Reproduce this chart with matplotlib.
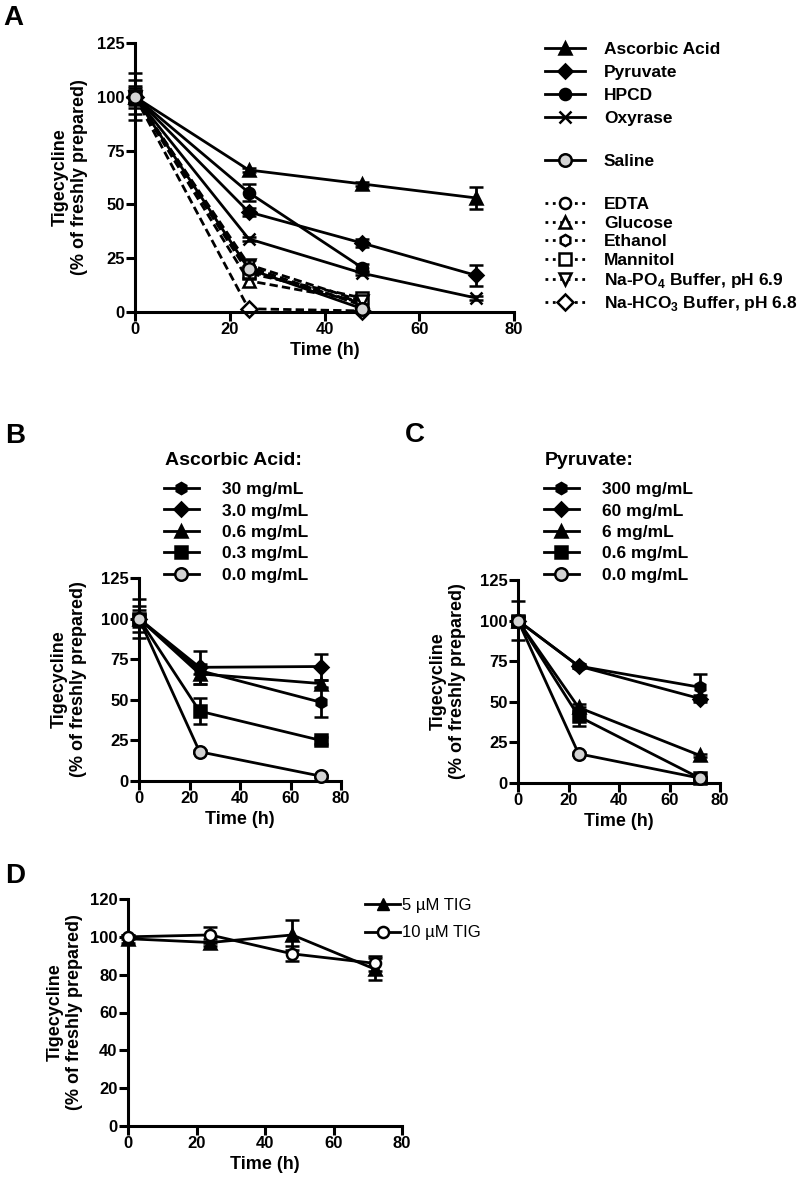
import matplotlib
matplotlib.use("Agg")
import matplotlib.pyplot as plt
from matplotlib.lines import Line2D

plt.rcParams['font.family'] = ['Liberation Sans', 'DejaVu Sans']
plt.rcParams['font.weight'] = 'bold'
plt.rcParams['mathtext.fontset'] = 'custom'
plt.rcParams['mathtext.rm'] = 'Liberation Sans:bold'
plt.rcParams['mathtext.bf'] = 'Liberation Sans:bold'

# ---------------- data ----------------
times_A = [0, 24, 48, 72]
asc_A = [100, 66, 59.5, 53];   asc_A_err = [8, 1, 1, 5]
pyr_A = [100, 46.5, 32, 17];   pyr_A_err = [5, 2, 2, 5]
hpcd_A = [100, 55.5, 20.5];    hpcd_A_err = [11, 4, 2]
oxy_A = [100, 34, 18, 6.5];    oxy_A_err = [3, 1, 1, 1]
saline_A = [100, 20, 1.5];     saline_A_err = [4, 4, 1]
edta_A = [100, 21, 3]
glucose_A = [100, 14.5, 5]
ethanol_A = [100, 19, 4]
mannitol_A = [100, 18, 6.5]
napo4_A = [100, 22, 5]
nahco3_A = [100, 1.5, 0.5]
labels_A_solid = ['Ascorbic Acid', 'Pyruvate', 'HPCD', 'Oxyrase']
label_A_saline = 'Saline'
labels_A_dotted = ['EDTA', 'Glucose', 'Ethanol', 'Mannitol',
                   r'Na-PO$_\mathbf{4}$ Buffer, pH 6.9',
                   r'Na-HCO$_\mathbf{3}$ Buffer, pH 6.8']

times_BC = [0, 24, 72]
title_B = 'Ascorbic Acid:'
labels_B = ['30 mg/mL', '3.0 mg/mL', '0.6 mg/mL', '0.3 mg/mL', '0.0 mg/mL']
b30 = [100, 68, 48.5];  b30_err = [12, 2, 9]
b3 = [100, 70, 70.5];   b3_err = [5, 10, 8]
b06 = [100, 66, 60];    b06_err = [3, 6, 2]
b03 = [100, 43, 25];    b03_err = [8, 8, 2]
b0 = [100, 18, 3];      b0_err = [2, 1, 1]

title_C = 'Pyruvate:'
labels_C = ['300 mg/mL', '60 mg/mL', '6 mg/mL', '0.6 mg/mL', '0.0 mg/mL']
c300 = [100, 72, 59];   c300_err = [12, 1, 8]
c60 = [100, 72, 52];    c60_err = [3, 1, 2]
c6 = [100, 46.5, 17];   c6_err = [3, 2, 1]
c06 = [100, 41, 3];     c06_err = [2, 6, 1]
c0 = [100, 18, 3];      c0_err = [2, 1, 1]

times_D = [0, 24, 48, 72]
labels_D = ['5 \u00b5M TIG', '10 \u00b5M TIG']
d5 = [99, 97, 101, 83];   d5_err = [2, 2, 8, 6]
d10 = [100, 101, 91, 86]; d10_err = [1, 4, 4, 4]

# ---------------- figure ----------------
W, H = 797, 1186
fig = plt.figure(figsize=(W / 100, H / 100), dpi=100)
GRAY = '#d3d3d3'
LW = 2.0
TICK_FS = 12
LAB_FS = 13

def px_axes(x0, y0, x1, y1):
    return fig.add_axes([x0 / W, 1 - y1 / H, (x1 - x0) / W, (y1 - y0) / H])

def style(ax, xmax, ymax, yticks, ypad):
    ax.set_xlim(0, xmax)
    ax.set_ylim(0, ymax)
    ax.set_yticks(yticks)
    ax.set_xticks([0, 20, 40, 60, 80])
    for s in ['top', 'right']:
        ax.spines[s].set_visible(False)
    for s in ['left', 'bottom']:
        ax.spines[s].set_linewidth(2.2)
    ax.tick_params(width=2.2, length=6.5, labelsize=TICK_FS, direction='out', pad=1)
    for t in ax.get_xticklabels() + ax.get_yticklabels():
        t.set_fontweight('bold')
    ax.set_xlabel('Time (h)', fontsize=LAB_FS, fontweight='bold', labelpad=3)
    ax.set_ylabel('Tigecycline\n(% of freshly prepared)', fontsize=LAB_FS,
                  fontweight='bold', labelpad=ypad)

def series(ax, x, y, err, marker, ms, mfc, ls='-', z=3):
    return ax.errorbar(x, y, yerr=err, color='black', lw=LW, ls=ls,
                       marker=marker, ms=ms, mfc=mfc, mec='black', mew=1.8,
                       capsize=5, capthick=2, elinewidth=2, clip_on=False,
                       zorder=z)

# ---------------- Panel A ----------------
axA = px_axes(135, 43, 514, 312)
dash = (0, (3, 1.5))
dotted_sets = [(edta_A, 'o'), (glucose_A, '^'), (ethanol_A, 'h'),
               (mannitol_A, 's'), (napo4_A, 'v'), (nahco3_A, 'D')]
for yv, m in dotted_sets:
    axA.plot(times_A[:3], yv, color='black', lw=LW, ls=dash, marker=m, ms=8,
             mfc='white', mec='black', mew=1.8, clip_on=False, zorder=2)
series(axA, times_A, asc_A, asc_A_err, '^', 8, 'black')
series(axA, times_A, pyr_A, pyr_A_err, 'D', 7, 'black')
series(axA, times_A[:3], hpcd_A, hpcd_A_err, 'o', 8, 'black')
series(axA, times_A, oxy_A, oxy_A_err, 'x', 8, 'black')
series(axA, times_A[:3], saline_A, saline_A_err, 'o', 9, GRAY, z=4)
style(axA, 80, 125, [0, 25, 50, 75, 100, 125], 6)

h_solid = [Line2D([], [], color='black', lw=LW, marker=m, ms=ms, mfc='black',
                  mec='black', mew=1.8) for m, ms in [('^', 8), ('D', 7), ('o', 8), ('x', 8)]]
h_sal = [Line2D([], [], color='black', lw=LW, marker='o', ms=9, mfc=GRAY,
                mec='black', mew=1.8)]
h_dot = [Line2D([], [], color='black', lw=LW, ls=':', marker=m, ms=8,
                mfc='white', mec='black', mew=1.8) for _, m in dotted_sets]
LEG_A_FS = 12.5
common = dict(loc='upper left', frameon=False, borderaxespad=0, borderpad=0,
              handlelength=2.3, handletextpad=1.1,
              prop={'weight': 'bold', 'size': LEG_A_FS})
fig.legend(h_solid, labels_A_solid, bbox_to_anchor=(545 / W, 1 - 42 / H),
           labelspacing=0.45, **common)
fig.legend(h_sal, [label_A_saline], bbox_to_anchor=(545 / W, 1 - 154 / H),
           **common)
fig.legend(h_dot, labels_A_dotted, bbox_to_anchor=(545 / W, 1 - 197 / H),
           labelspacing=0.2, **common)

# ---------------- Panel B ----------------
axB = px_axes(139, 578, 341, 781)
markers_BC = [('h', 8, 'black'), ('D', 7, 'black'), ('^', 8, 'black'),
              ('s', 8, 'black'), ('o', 9, GRAY)]
for (m, ms, fc), yv, ev in zip(markers_BC, [b30, b3, b06, b03, b0],
                               [b30_err, b3_err, b06_err, b03_err, b0_err]):
    series(axB, times_BC, yv, ev, m, ms, fc, z=4 if fc == GRAY else 3)
style(axB, 80, 125, [0, 25, 50, 75, 100, 125], 10)

def conc_handles():
    return [Line2D([], [], color='black', lw=LW, marker=m, ms=ms, mfc=fc,
                   mec='black', mew=1.8) for m, ms, fc in markers_BC]

LEG_BC = dict(loc='upper left', frameon=False,
              borderaxespad=0, borderpad=0, handlelength=2.0, handletextpad=1.35,
              labelspacing=0.36, prop={'weight': 'bold', 'size': 12.5})
fig.text(165 / W, 1 - 460 / H, title_B, fontsize=14, fontweight='bold',
         va='center', ha='left')
fig.legend(conc_handles(), labels_B, bbox_to_anchor=(164 / W, 1 - 482 / H), **LEG_BC)

# ---------------- Panel C ----------------
axC = px_axes(518, 580, 720, 783)
for (m, ms, fc), yv, ev in zip(markers_BC, [c300, c60, c6, c06, c0],
                               [c300_err, c60_err, c6_err, c06_err, c0_err]):
    series(axC, times_BC, yv, ev, m, ms, fc, z=4 if fc == GRAY else 3)
style(axC, 80, 125, [0, 25, 50, 75, 100, 125], 10)
fig.text(545 / W, 1 - 460 / H, title_C, fontsize=14, fontweight='bold',
         va='center', ha='left')
fig.legend(conc_handles(), labels_C, bbox_to_anchor=(544 / W, 1 - 482 / H), **LEG_BC)

# ---------------- Panel D ----------------
axD = px_axes(128, 899, 402, 1126)
series(axD, times_D, d5, d5_err, '^', 8, 'black')
series(axD, times_D, d10, d10_err, 'o', 8, 'white')
style(axD, 80, 120, [0, 20, 40, 60, 80, 100, 120], 5)
hD = [Line2D([], [], color='black', lw=LW, marker='^', ms=8, mfc='black', mec='black'),
      Line2D([], [], color='black', lw=LW, marker='o', ms=8, mfc='white', mec='black', mew=1.8)]
fig.legend(hD, labels_D, bbox_to_anchor=(365 / W, 1 - 898 / H), loc='upper left',
           frameon=False, borderaxespad=0, borderpad=0, handlelength=2.1,
           handletextpad=0.15, labelspacing=0.75, prop={'weight': 'normal', 'size': 12})

# ---------------- panel letters ----------------
for txt, x, y in [('A', 3, 25), ('B', 5, 443), ('C', 405, 442), ('D', 5, 883)]:
    fig.text(x / W, 1 - y / H, txt, fontsize=20, fontweight='bold',
             va='baseline', ha='left')

fig.savefig('out.png', dpi=100)
